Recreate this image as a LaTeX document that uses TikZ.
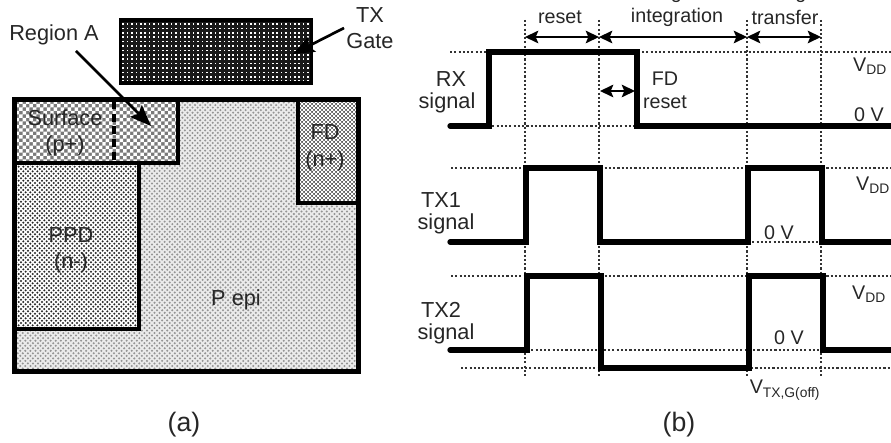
\documentclass[tikz,border=0pt]{standalone}
\usepackage{fontspec}
\setmainfont{Liberation Sans}
\usetikzlibrary{arrows.meta, patterns, calc}

% Dot textures for the doped regions (tile sizes in pt, 1 px = 0.75 pt)
\pgfdeclarepatternformonly{epidots}{\pgfqpoint{-1pt}{-1pt}}{\pgfqpoint{3.8pt}{3.8pt}}{\pgfqpoint{3.8pt}{3.8pt}}{
    \pgfpathcircle{\pgfqpoint{0pt}{0pt}}{0.85pt}
    \pgfpathcircle{\pgfqpoint{1.9pt}{1.9pt}}{0.85pt}
    \pgfusepath{fill}
}
\pgfdeclarepatternformonly{ppddots}{\pgfqpoint{-1pt}{-1pt}}{\pgfqpoint{3.5pt}{3.5pt}}{\pgfqpoint{3.5pt}{3.5pt}}{
    \pgfpathcircle{\pgfqpoint{0pt}{0pt}}{0.86pt}
    \pgfpathcircle{\pgfqpoint{1.75pt}{1.75pt}}{0.86pt}
    \pgfusepath{fill}
}
\pgfdeclarepatternformonly{surfchecks}{\pgfqpoint{-1.5pt}{-1.5pt}}{\pgfqpoint{5.2pt}{5.2pt}}{\pgfqpoint{5.2pt}{5.2pt}}{
    \pgfpathrectangle{\pgfqpoint{-1.3pt}{-1.3pt}}{\pgfqpoint{2.6pt}{2.6pt}}
    \pgfpathrectangle{\pgfqpoint{1.3pt}{1.3pt}}{\pgfqpoint{2.6pt}{2.6pt}}
    \pgfusepath{fill}
}
\pgfdeclarepatternformonly{fdchecks}{\pgfqpoint{-1pt}{-1pt}}{\pgfqpoint{3pt}{3pt}}{\pgfqpoint{3pt}{3pt}}{
    \pgfpathrectangle{\pgfqpoint{-0.75pt}{-0.75pt}}{\pgfqpoint{1.5pt}{1.5pt}}
    \pgfpathrectangle{\pgfqpoint{0.75pt}{0.75pt}}{\pgfqpoint{1.5pt}{1.5pt}}
    \pgfusepath{fill}
}
\pgfdeclarepatternformonly{gatedots}{\pgfqpoint{-1pt}{-1pt}}{\pgfqpoint{3.3pt}{3.3pt}}{\pgfqpoint{3.3pt}{3.3pt}}{
    \pgfpathrectangle{\pgfqpoint{-0.65pt}{-0.65pt}}{\pgfqpoint{1.3pt}{1.3pt}}
    \pgfusepath{fill}
}

\tikzset{
    region/.style={draw=black, line width=3.6pt, line join=miter},
    wave/.style={line width=4pt, line cap=round, line join=miter},
    guide/.style={line width=0.9pt, dash pattern=on 1.6pt off 1.6pt, black!80},
    span/.style={line width=1.1pt, {Stealth[length=10pt,width=9.5pt,inset=2pt]}-{Stealth[length=10pt,width=9.5pt,inset=2pt]}},
    pointer/.style={line width=2pt, -{Stealth[length=16pt,width=12.5pt,inset=3pt]}},
    lbl/.style={font=\fontsize{14.8}{16}\selectfont, text=black!85, inner sep=0pt},
    biglbl/.style={font=\fontsize{16.3}{18}\selectfont, text=black!85, inner sep=0pt},
    panelcap/.style={font=\fontsize{20}{22}\selectfont, text=black!85, inner sep=0pt}
}

\begin{document}
\begin{tikzpicture}[x=0.75pt, y=-0.75pt]

\useasboundingbox (0,0) rectangle (891,442);

% Panel (a): substrate and implants
\fill[black!8] (14,99) rectangle (359,372);
\path[pattern=epidots, pattern color=black!42] (14,99) rectangle (359,372);
\path[fill=white] (14,163) rectangle (139,329);
\path[pattern=ppddots, pattern color=black!85] (14,163) rectangle (139,329);
\path[fill=black!52] (14,99) rectangle (178,163);
\path[pattern=surfchecks, pattern color=white] (14,99) rectangle (178,163);
\path[fill=black!62] (298,99) rectangle (359,203);
\path[pattern=fdchecks, pattern color=white] (298,99) rectangle (359,203);
\draw[region] (14.5,99.5) rectangle (358.5,371.5);
\draw[region] (14.5,163) -| (139,329) -- (14.5,329);
\draw[region] (14.5,163) -- (178,163) -- (178,99.5);
\draw[region] (298,99.5) |- (358.5,203);
\draw[line width=3pt, dash pattern=on 6pt off 3.5pt] (114,101) -- (114,161);

% TX gate
\path[fill=black!90] (121,20) rectangle (311,83);
\path[pattern=gatedots, pattern color=white] (121,20) rectangle (311,83);
\draw[draw=black, line width=2.6pt] (120.5,20) rectangle (311.5,83);

% Panel (a) labels
\node[biglbl] (regiona) at (54,35) {Region A};
\node[biglbl] (txname) at (370,15) {TX};
\node[biglbl] (gatename) at (370,41) {Gate};
\node[biglbl] (surface) at (65,118) {Surface};
\node[biglbl] (pplus) at (65,146) {(p+)};
\node[biglbl] (fdlabel) at (325,132) {FD};
\node[biglbl] (nplus) at (325,161) {(n+)};
\node[biglbl] (ppd) at (71,235) {PPD};
\node[biglbl] (nminus) at (71,263) {(n-)};
\node[biglbl] (pepi) at (236,300) {P epi};
\node[panelcap] (capa) at (184,425) {(a)};

% Pointers into the layout
\coordinate (regiontip) at (151,126);
\coordinate (gatetip) at (293,54);
\draw[pointer] (76,51) -- (regiontip);
\draw[pointer] (344,28) -- (gatetip);

% Phase boundaries
\coordinate (t1) at (525,20);
\coordinate (t2) at (599,20);
\coordinate (t3) at (747,20);
\coordinate (t4) at (821,20);
\foreach \t in {t1,t2,t3,t4}
    \draw[guide] (\t) -- (\t |- 0,378);

% Level lines: y, x-start, x-end
\foreach \y/\a/\b in {52/450/891, 126/488/636, 168/451/891, 242/748/822,
                      276/451/891, 350/527/823, 368/461/891}
    \draw[guide] (\a,\y) -- (\b,\y);

% Signals
\draw[wave] (450,126) -- (489,126) -- (489,52) -- (637,52) -- (637,126) -- (895,126);
\draw[wave] (450,242) -- (526,242) -- (526,168) -- (600,168) -- (600,242)
    -- (748,242) -- (748,168) -- (822,168) -- (822,242) -- (895,242);
\draw[wave] (450,350) -- (527,350) -- (527,276) -- (601,276) -- (601,368)
    -- (749,368) -- (749,276) -- (823,276) -- (823,350) -- (895,350);

% Phase spans
\coordinate (s1) at (525,37);
\coordinate (s2) at (599,37);
\coordinate (s3) at (747,37);
\coordinate (s4) at (821,37);
\draw[span] (s1) -- (s2);
\draw[span] (s2) -- (s3);
\draw[span] (s3) -- (s4);
\coordinate (fd1) at (600,91);
\coordinate (fd2) at (635,91);
\draw[span] (fd1) -- (fd2);

% Phase titles, first lines run off the top
\node[lbl] (pdtitle) at (560,-7) {PD};
\node[lbl] (pdreset) at (560,17) {reset};
\node[lbl] (lighttitle) at (677,-7) {Light};
\node[lbl] (integration) at (677,17) {integration};
\node[lbl] (chargetitle) at (785,-7) {Charge};
\node[lbl] (transfer) at (785,17) {transfer};

% Signal names and levels
\node[biglbl] (rxname) at (451,79) {RX};
\node[biglbl] (rxsignal) at (447,103) {signal};
\node[lbl] (fdreset) at (665,79) {FD};
\node[lbl] (fdresetb) at (665,102) {reset};
\node[biglbl] (tx1name) at (441,200) {TX1};
\node[biglbl] (tx1signal) at (446,224) {signal};
\node[biglbl] (tx2name) at (441,310) {TX2};
\node[biglbl] (tx2signal) at (446,334) {signal};
\node[lbl] (vdda) at (870,66) {V\textsubscript{DD}};
\node[lbl] (zeroa) at (869,115) {0 V};
\node[lbl] (vddb) at (873,185) {V\textsubscript{DD}};
\node[lbl] (zerob) at (779,233) {0 V};
\node[lbl] (vddc) at (869,294) {V\textsubscript{DD}};
\node[lbl] (zeroc) at (789,338) {0 V};
\node[lbl] (vtx) at (785,390) {V\textsubscript{TX,G(off)}};
\node[panelcap] (capb) at (679,425) {(b)};

\end{tikzpicture}
\end{document}
